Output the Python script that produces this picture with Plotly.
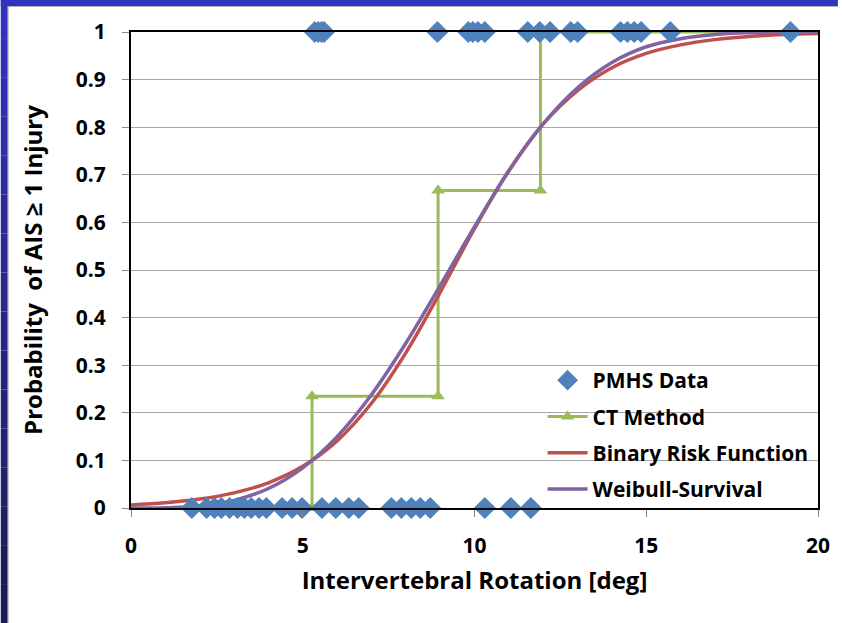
import plotly.graph_objects as go

# ---------------- data ----------------
pmhs_inj_x = [5.35, 5.45, 5.55, 5.62, 8.92, 9.82, 9.95, 10.1, 10.3, 11.55, 11.9, 12.2,
              12.8, 13.0, 14.25, 14.45, 14.65, 14.85, 15.7, 19.2]
pmhs_noinj_x = [1.77, 2.2, 2.43, 2.63, 2.87, 3.1, 3.3, 3.5, 3.73, 3.94, 4.4, 4.69, 4.98,
                5.56, 5.96, 6.34, 6.63, 7.58, 7.87, 8.16, 8.42, 8.71, 10.3, 11.06, 11.64]

ct_x = [1.77, 5.27, 5.27, 8.94, 8.94, 11.92, 11.92, 19.2]
ct_y = [0.0, 0.0, 0.235, 0.235, 0.667, 0.667, 1.0, 1.0]

curve_x = [0, 1, 2, 3, 4, 5, 6, 7, 8, 9, 10, 11, 12, 13, 14, 15, 16, 17, 18, 19, 20]
binary_y = [0.0064, 0.011, 0.0187, 0.0317, 0.053, 0.0875, 0.141, 0.22, 0.326, 0.453, 0.587,
            0.709, 0.807, 0.877, 0.925, 0.955, 0.973, 0.984, 0.9907, 0.9945, 0.9968]
weibull_y = [0.0, 0.0004, 0.0041, 0.0159, 0.041, 0.0845, 0.150, 0.238, 0.346, 0.467, 0.591,
             0.708, 0.807, 0.883, 0.936, 0.969, 0.986, 0.9948, 0.9983, 0.9995, 0.9999]

y_ticks = [0, 0.1, 0.2, 0.3, 0.4, 0.5, 0.6, 0.7, 0.8, 0.9, 1]
y_tick_labels = ["0", "0.1", "0.2", "0.3", "0.4", "0.5", "0.6", "0.7", "0.8", "0.9", "1"]
x_ticks = [0, 5, 10, 15, 20]

# ---------------- figure ----------------
W, H = 842, 623
L, R, T, B = 131, 20, 32, 115
pw, ph = W - L - R, H - T - B

def px_x(p):
    return (p - L) / pw

def px_y(p):
    return (H - B - p) / ph

FONT = "Open Sans"
BLUE = "#4f81bd"
GREEN = "#9bbb59"
RED = "#c0504d"
PURPLE = "#8064a2"

fig = go.Figure()

fig.add_trace(go.Scatter(
    x=ct_x, y=ct_y, mode="lines+markers", name="CT Method",
    line=dict(color=GREEN, width=3),
    marker=dict(symbol="triangle-up", size=12, color=GREEN),
    legendrank=2, legendgroup="b", cliponaxis=False))
fig.add_trace(go.Scatter(
    x=curve_x, y=binary_y, mode="lines", name="Binary Risk Function",
    line=dict(color=RED, width=3.5, shape="spline"),
    legendrank=3, legendgroup="c", cliponaxis=False))
fig.add_trace(go.Scatter(
    x=curve_x, y=weibull_y, mode="lines", name="Weibull-Survival",
    line=dict(color=PURPLE, width=3.5, shape="spline"),
    legendrank=4, legendgroup="d", cliponaxis=False))
fig.add_trace(go.Scatter(
    x=pmhs_inj_x + pmhs_noinj_x,
    y=[1] * len(pmhs_inj_x) + [0] * len(pmhs_noinj_x),
    mode="markers", name="PMHS Data",
    marker=dict(symbol="diamond", size=17, color=BLUE),
    legendrank=1, legendgroup="a", cliponaxis=False))

# slide border (blue strips) — drawn in paper coords outside the plot area
shapes = []
x_left0, x_left1 = px_x(0), px_x(7)
nseg = 16
for i in range(nseg):
    t = i / (nseg - 1)
    r = int(0x32 + (0x1b - 0x32) * t)
    g = int(0x32 + (0x1b - 0x32) * t)
    b = int(0xc2 + (0x55 - 0xc2) * t)
    y1 = px_y(H * i / nseg)
    y0 = px_y(H * (i + 1) / nseg)
    shapes.append(dict(type="rect", xref="paper", yref="paper", x0=x_left0, x1=x_left1,
                       y0=y0, y1=y1, fillcolor=f"rgb({r},{g},{b})", line=dict(width=0),
                       layer="above"))
shapes.append(dict(type="rect", xref="paper", yref="paper", x0=px_x(0), x1=px_x(W),
                   y0=px_y(6), y1=px_y(0), fillcolor="#3232c2", line=dict(width=0),
                   layer="above"))
shapes.append(dict(type="line", xref="paper", yref="paper", x0=px_x(7.5), x1=px_x(W),
                   y0=px_y(6.5), y1=px_y(6.5), line=dict(color="#b0b0b0", width=1)))
shapes.append(dict(type="line", xref="paper", yref="paper", x0=px_x(7.5), x1=px_x(7.5),
                   y0=px_y(H), y1=px_y(6.5), line=dict(color="#b0b0b0", width=1)))

fig.update_layout(
    width=W, height=H,
    margin=dict(l=L, r=R, t=T, b=B),
    paper_bgcolor="white", plot_bgcolor="white",
    font=dict(family=FONT, color="black"),
    shapes=shapes,
    showlegend=True,
    legend=dict(
        x=px_x(545), y=px_y(360), xanchor="left", yanchor="top",
        bgcolor="rgba(0,0,0,0)", borderwidth=0,
        font=dict(family=FONT, size=21, weight="bold", color="black"),
        tracegroupgap=6, itemwidth=40,
    ),
    xaxis=dict(
        range=[0, 20], tickvals=x_ticks, ticks="outside", ticklen=7,
        tickcolor="#888888", tickwidth=1,
        showline=True, linecolor="black", linewidth=2, mirror=True,
        showgrid=False, zeroline=False,
        tickfont=dict(family=FONT, size=21, weight="bold", color="black"),
        ticklabelstandoff=11,
        title=dict(text="Intervertebral Rotation [deg]", standoff=14,
                   font=dict(family=FONT, size=24, weight="bold", color="black")),
    ),
    yaxis=dict(
        range=[0, 1], tickvals=y_ticks, ticktext=y_tick_labels, ticks="outside",
        ticklen=7, tickcolor="#888888", tickwidth=1,
        showline=True, linecolor="black", linewidth=2, mirror=True,
        showgrid=True, gridcolor="#a6a6a6", gridwidth=1, zeroline=False,
        tickfont=dict(family=FONT, size=21, weight="bold", color="black"),
        ticklabelstandoff=12,
        title=dict(text="Probability  of AIS \u2265 1 Injury", standoff=26,
                   font=dict(family=FONT, size=24, weight="bold", color="black")),
    ),
)

fig.write_html("out.html")
